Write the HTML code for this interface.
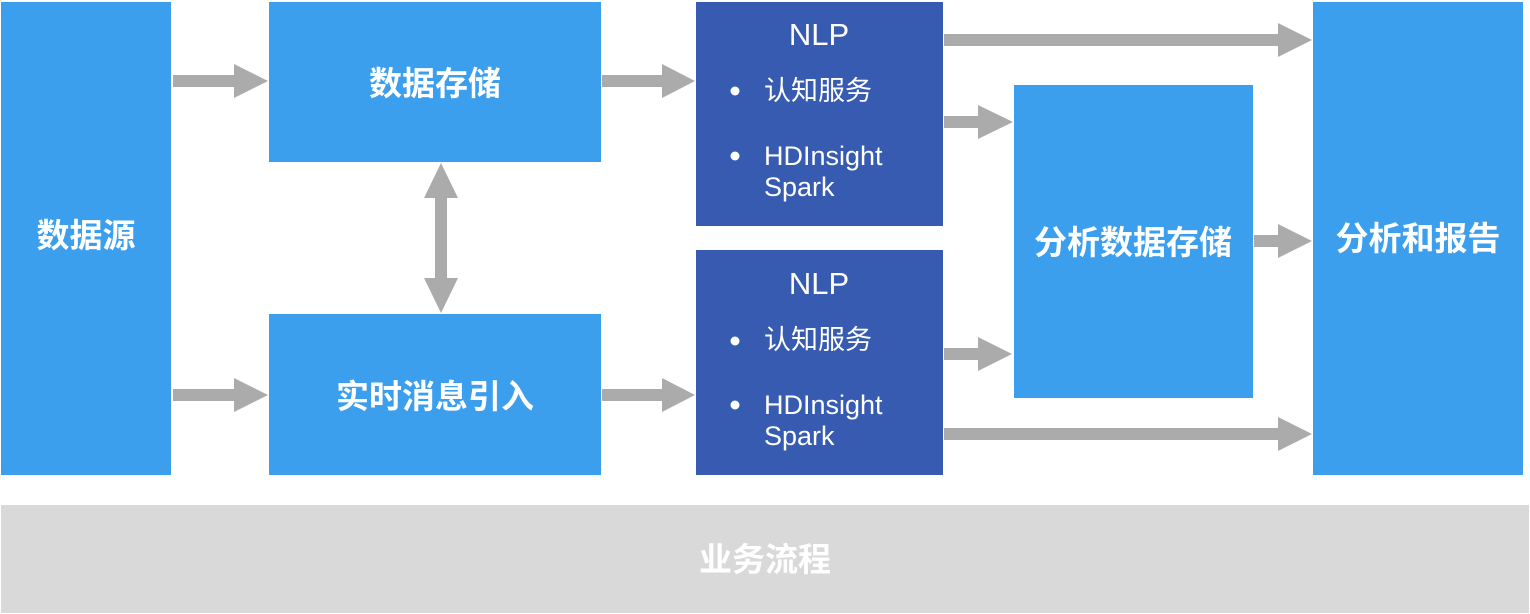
<!DOCTYPE html>
<html><head><meta charset="utf-8"><style>
html,body{margin:0;padding:0;background:#fff;width:1530px;height:614px;overflow:hidden}
svg{display:block}
text{font-family:"Liberation Sans","Noto Sans CJK SC",sans-serif;fill:#fff}
</style></head><body>
<svg width="1530" height="614" viewBox="0 0 1530 614" xmlns="http://www.w3.org/2000/svg">
<g fill="#3c9fee">
<rect x="1" y="2" width="170" height="473"/>
<rect x="269" y="2" width="332" height="160"/>
<rect x="269" y="314" width="332" height="161"/>
<rect x="1014" y="85" width="239" height="313"/>
<rect x="1313" y="2" width="210" height="473"/>
</g>
<g fill="#375bb1">
<rect x="696" y="2" width="247" height="224"/>
<rect x="696" y="250" width="247" height="225"/>
</g>
<rect x="1" y="505" width="1528" height="108" fill="#d9d9d9"/>
<g fill="#ababab">
<polygon points="173,75 234,75 234,64 268,81 234,98 234,87 173,87"/>
<polygon points="173,389 234,389 234,378 268,395 234,412 234,401 173,401"/>
<polygon points="602,75 662,75 662,64 695,81 662,98 662,87 602,87"/>
<polygon points="602,389 662,389 662,378 695,395 662,412 662,401 602,401"/>
<polygon points="435,198 424,198 441,163 458,198 447,198 447,278 458,278 441,313 424,278 435,278"/>
<polygon points="944,34 1278,34 1278,23 1312,40 1278,57 1278,46 944,46"/>
<polygon points="944,116 978,116 978,105 1013,122 978,139 978,128 944,128"/>
<polygon points="944,348 978,348 978,337 1012,354 978,371 978,360 944,360"/>
<polygon points="944,428 1278,428 1278,417 1312,434 1278,451 1278,440 944,440"/>
<polygon points="1254,235 1278,235 1278,224 1312,241 1278,258 1278,247 1254,247"/>
</g>
<g font-size="33" font-weight="bold" text-anchor="middle">
<text x="86" y="247">数据源</text>
<text x="435" y="95">数据存储</text>
<text x="435" y="408">实时消息引入</text>
<text x="1133" y="254">分析数据存储</text>
<text x="1418" y="250">分析和报告</text>
<text x="765" y="571">业务流程</text>
</g>
<g font-size="31" text-anchor="middle">
<text x="819" y="45">NLP</text>
<text x="819" y="294">NLP</text>
</g>
<g font-size="27">
<circle cx="735" cy="91" r="4.5" fill="#fff"/>
<text x="764" y="100">认知服务</text>
<circle cx="735" cy="156" r="4.5" fill="#fff"/>
<text x="764" y="165">HDInsight</text>
<text x="764" y="196">Spark</text>
<circle cx="735" cy="341" r="4.5" fill="#fff"/>
<text x="764" y="349">认知服务</text>
<circle cx="735" cy="405" r="4.5" fill="#fff"/>
<text x="764" y="414">HDInsight</text>
<text x="764" y="445">Spark</text>
</g>
</svg>
</body></html>
